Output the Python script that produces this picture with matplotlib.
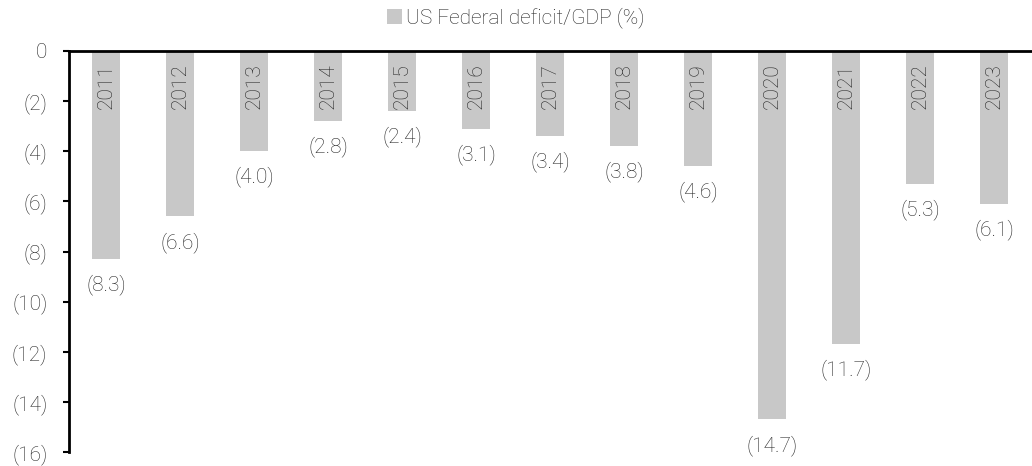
import matplotlib
matplotlib.use("Agg")
import matplotlib.pyplot as plt
from matplotlib.patches import Patch

years = ["2011", "2012", "2013", "2014", "2015", "2016", "2017", "2018", "2019",
         "2020", "2021", "2022", "2023"]
deficit = [-8.3, -6.6, -4.0, -2.8, -2.4, -3.1, -3.4, -3.8, -4.6, -14.7, -11.7, -5.3, -6.1]
yticks = [0, -2, -4, -6, -8, -10, -12, -14, -16]
ytick_labels = ["0", "(2)", "(4)", "(6)", "(8)", "(10)", "(12)", "(14)", "(16)"]

plt.rcParams['font.family'] = ['Roboto', 'DejaVu Sans']
bar_color = "#c8c8c8"
text_color = "#262626"
fs = 15

fig = plt.figure(figsize=(10.32, 4.66), dpi=100)
ax = fig.add_axes([69/1032, 1 - 452/466, 962/1032, 401/466])

x = list(range(len(years)))
ax.bar(x, deficit, width=0.39, color=bar_color, zorder=2)

for xi, yr, v in zip(x, years, deficit):
    ax.text(xi, -0.5, yr, rotation=90, ha='center', va='top', fontsize=fs,
            color=text_color, fontweight='light', zorder=3)
    ax.annotate(f"({abs(v):.1f})", xy=(xi, v), xytext=(0, -11), textcoords='offset points',
                ha='center', va='top', fontsize=fs, color=text_color, fontweight='light')

ax.set_xlim(-0.5, 12.5)
ax.set_ylim(-16, 0)
ax.set_yticks(yticks)
ax.set_yticklabels(ytick_labels, fontsize=fs, color=text_color, fontweight='light')
ax.tick_params(axis='y', direction='out', length=4.5, width=1.5, pad=11)
ax.set_xticks([])

for s in ['right', 'bottom']:
    ax.spines[s].set_visible(False)
ax.spines['top'].set_linewidth(2)
ax.spines['left'].set_linewidth(2)
ax.spines['top'].set_color('black')
ax.spines['left'].set_color('black')

handle = Patch(facecolor=bar_color, edgecolor='none', label="US Federal deficit/GDP (%)")
leg = fig.legend(handles=[handle], loc='center', bbox_to_anchor=(0.5, 1 - 18/466),
                 frameon=False, fontsize=fs, handlelength=0.7, handleheight=0.7,
                 handletextpad=0.2)
for t in leg.get_texts():
    t.set_color(text_color)
    t.set_fontweight('light')

fig.savefig("out.png", dpi=100)
